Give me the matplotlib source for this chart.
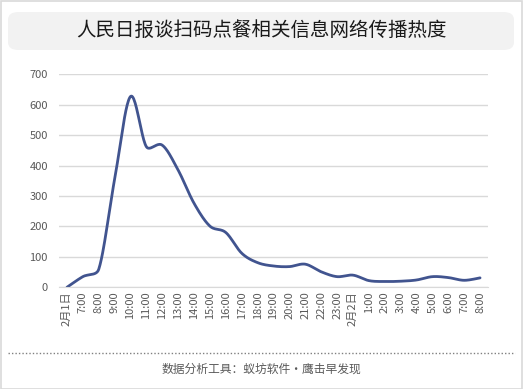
import matplotlib.pyplot as plt
import numpy as np
from matplotlib.patches import FancyBboxPatch, Rectangle
from matplotlib.lines import Line2D

plt.rcParams['font.family'] = ['Noto Sans CJK SC', 'DejaVu Sans']

# categorias y valores
etiquetas = ['2月1日', '7:00', '8:00', '9:00', '10:00', '11:00', '12:00', '13:00',
             '14:00', '15:00', '16:00', '17:00', '18:00', '19:00', '20:00', '21:00',
             '22:00', '23:00', '2月2日', '1:00', '2:00', '3:00', '4:00', '5:00',
             '6:00', '7:00', '8:00']
valores = [0, 35, 59, 355, 627, 462, 467, 385, 276, 201, 180, 112, 81, 70, 68, 76,
           51, 35, 40, 22, 19, 20, 24, 35, 32, 23, 31]
titulo = "人民日报谈扫码点餐相关信息网络传播热度"
pie = "数据分析工具：蚁坊软件·鹰击早发现"


def recortar(v, lim):
    n = np.hypot(*v)
    return v if n <= lim else v*lim/n


def suavizar(x, y, sx, sy, n=24, k=0.4):
    # linea suavizada tipo excel: catmull-rom en pantalla, con los puntos
    # de control limitados para que no se pase en los tramos cortos
    P = np.column_stack([np.asarray(x, float)*sx, np.asarray(y, float)*sy])
    N = len(P)
    m = np.zeros_like(P)
    for i in range(N):
        m[i] = (P[min(i+1, N-1)] - P[max(i-1, 0)])/6
    t = np.linspace(0, 1, n, endpoint=False)[:, None]
    out = []
    for i in range(N-1):
        L = np.hypot(*(P[i+1]-P[i]))
        c1 = P[i] + recortar(m[i], k*L)
        c2 = P[i+1] - recortar(m[i+1], k*L)
        out.append((1-t)**3*P[i] + 3*(1-t)**2*t*c1 + 3*(1-t)*t**2*c2 + t**3*P[i+1])
    out.append(P[-1:])
    out = np.vstack(out)
    return out[:, 0]/sx, out[:, 1]/sy


fig = plt.figure(figsize=(5.23, 3.89), dpi=100)
W, H = 523.0, 389.0

# borde exterior
fig.patches.append(Rectangle((0.5/W, 0.5/H), 521/W, 387.5/H, transform=fig.transFigure,
                             fill=False, edgecolor='#d9d9d9', linewidth=1.2))
# caja del titulo
fig.patches.append(FancyBboxPatch((8/W, 1-50/H), 506/W, 38/H, transform=fig.transFigure,
                                  boxstyle="round,pad=0,rounding_size=0.02",
                                  facecolor='#f2f2f2', edgecolor='none'))
fig.text(0.5, 1-30/H, titulo, ha='center', va='center', fontsize=14, color='#1a1a1a')

ax = fig.add_axes([59/W, 1-287.3/H, 429/W, 213/H])
x = np.arange(len(valores))
xs, ys = suavizar(x, valores, 429/27, 213/700)
ax.plot(xs, ys, color='#41548f', linewidth=2.0, solid_capstyle='round')
ax.set_xlim(-0.5, len(valores)-0.5)
ax.set_ylim(0, 700)
ax.set_yticks(range(0, 701, 100))
ax.set_xticks(x)
ax.set_xticklabels(etiquetas, rotation=90, fontsize=8, color='#595959')
ax.tick_params(axis='y', labelsize=8, colors='#595959', length=0, pad=8)
ax.tick_params(axis='x', length=0, pad=3)
ax.grid(axis='y', color='#d9d9d9', linewidth=1)
ax.set_axisbelow(True)
for s in ['top', 'right', 'left']:
    ax.spines[s].set_visible(False)
ax.spines['bottom'].set_color('#d9d9d9')

# pie de pagina
fig.lines.append(Line2D([8/W, 515/W], [1-353/H, 1-353/H], transform=fig.transFigure,
                        color='#808080', linewidth=1, linestyle=(0, (1, 1.5))))
fig.text(0.5, 1-369/H, pie, ha='center', va='center', fontsize=8.5, color='#595959')

fig.savefig('out.png', dpi=100)
